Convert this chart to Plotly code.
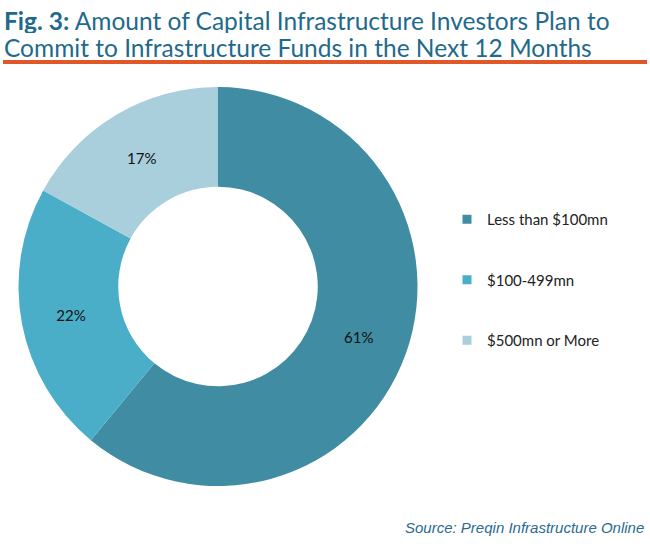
import plotly.graph_objects as go

labels = ["Less than $100mn", "$100-499mn", "$500mn or More"]
shares = [61, 22, 17]
colors = ["#3f8ca3", "#4aaec8", "#a9cedc"]

title_lines = [
    "<b>Fig. 3:</b> Amount of Capital Infrastructure Investors Plan to",
    "Commit to Infrastructure Funds in the Next 12 Months",
]
title_color = "#1f6a8c"

fig = go.Figure()

fig.add_trace(
    go.Pie(
        labels=labels,
        values=shares,
        hole=0.5,
        sort=False,
        direction="clockwise",
        rotation=0,
        marker=dict(colors=colors, line=dict(width=0)),
        texttemplate="%{value}%",
        textposition="inside",
        insidetextorientation="horizontal",
        textfont=dict(family="Lato", size=15, color="#111111"),
        showlegend=False,
        domain=dict(x=[18 / 650, 418 / 650], y=[61 / 547, 460 / 547]),
    )
)

# legend entries drawn as empty scatter traces so the item spacing can be set
for name, col in zip(labels, colors):
    fig.add_trace(
        go.Scatter(
            x=[None],
            y=[None],
            mode="markers",
            name=name,
            legendgroup=name,
            marker=dict(symbol="square", size=9, color=col),
        )
    )

annotations = []
for i, line in enumerate(title_lines):
    annotations.append(
        dict(
            text=line,
            xref="paper",
            yref="paper",
            x=2 / 650,
            y=1 - (20 + 27 * i) / 547,
            xanchor="left",
            yanchor="middle",
            height=26,
            valign="middle",
            showarrow=False,
            font=dict(family="Lato", size=24.5, color=title_color),
        )
    )
annotations.append(
    dict(
        text="<i>Source: Preqin Infrastructure Online</i>",
        xref="paper",
        yref="paper",
        x=646 / 650,
        y=1 - 527 / 547,
        xanchor="right",
        yanchor="middle",
        showarrow=False,
        font=dict(family="Liberation Sans", size=15, color="#2a6a92"),
    )
)

fig.update_layout(
    width=650,
    height=547,
    margin=dict(l=0, r=0, t=0, b=0),
    paper_bgcolor="white",
    plot_bgcolor="white",
    xaxis=dict(visible=False),
    yaxis=dict(visible=False),
    legend=dict(
        x=447 / 650,
        y=1 - 203 / 547,
        xanchor="left",
        yanchor="top",
        tracegroupgap=38,
        font=dict(family="Lato", size=15, color="#222222"),
        itemwidth=30,
    ),
    shapes=[
        dict(
            type="line",
            xref="paper",
            yref="paper",
            x0=3 / 650,
            x1=647 / 650,
            y0=1 - 62 / 547,
            y1=1 - 62 / 547,
            line=dict(color="#e0582a", width=4),
        )
    ],
    annotations=annotations,
)

fig.write_html(
    "out.html",
    config={"displayModeBar": False},
    post_script="document.body.style.margin='0';",
)
